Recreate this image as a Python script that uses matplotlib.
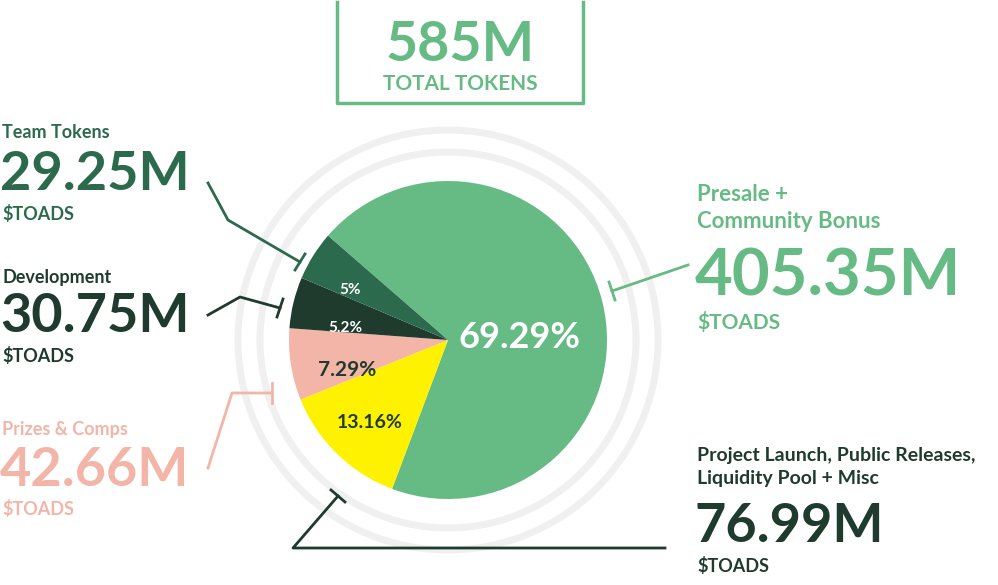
import matplotlib
matplotlib.use("Agg")
import matplotlib.pyplot as plt
from matplotlib.patches import Circle

labels = ["Presale + Community Bonus", "Project Launch", "Prizes & Comps", "Development", "Team Tokens"]
values = [69.29, 13.16, 7.29, 5.2, 5.0]
pct_labels = ["69.29%", "13.16%", "7.29%", "5.2%", "5%"]
colors = ["#66bb84", "#fff200", "#f2b5a8", "#1f3b2e", "#2c6a4e"]
pct_colors = ["white", "#1f3b2e", "#1f3b2e", "white", "white"]
pct_sizes = [26, 14, 15, 11, 11]

H = 585
fig = plt.figure(figsize=(9.98, 5.85), dpi=100)
ax = fig.add_axes([0, 0, 1, 1])
F = "Lato"
cx, cy, r = 448, H - 340, 159

for rad, lw in [(210, 5), (188, 5)]:
    ax.add_patch(Circle((cx, cy), rad, fill=False, ec="#f0f0f0", lw=lw))

wedges, _ = ax.pie(values, colors=colors, startangle=139, counterclock=False,
                   center=(cx, cy), radius=r, frame=True)
ax.set_xlim(0, 998); ax.set_ylim(0, H); ax.set_aspect("equal"); ax.axis("off")

pct_pos = [(520, 337), (370, 423), (347, 370), (345, 328), (350, 290)]
for (x, y), t, c, s in zip(pct_pos, pct_labels, pct_colors, pct_sizes):
    ax.text(x, H - y, t, color=c, fontsize=s, fontweight="bold", family=F, ha="center", va="center")

G = "#66bb84"; D = "#2c6a4e"; K = "#1f3b2e"; P = "#f2b5a8"
ax.plot([337, 337, 583, 583], [H - 2, H - 103, H - 103, H - 2], color=G, lw=2.5)
ax.text(460, H - 45, "585M", color=G, fontsize=40, fontweight="bold", family=F, ha="center", va="center")
ax.text(460, H - 84, "TOTAL TOKENS", color=G, fontsize=15, fontweight="bold", family=F, ha="center", va="center")

def t(x, y, s, col, size):
    ax.text(x, H - y, s, color=col, fontsize=size, fontweight="bold", family=F, va="center", linespacing=1.4)

t(2, 133, "Team Tokens", D, 13); t(0, 175, "29.25M", D, 39); t(2, 214, "$TOADS", D, 13)
t(2, 277, "Development", K, 13); t(0, 317, "30.75M", K, 39); t(2, 356, "$TOADS", K, 13)
t(2, 430, "Prizes & Comps", P, 13); t(0, 470, "42.66M", P, 39); t(2, 509, "$TOADS", P, 13)
t(697, 208, "Presale +\nCommunity Bonus", G, 16); t(695, 277, "405.35M", G, 47); t(697, 323, "$TOADS", G, 15)
t(697, 467, "Project Launch, Public Releases,\nLiquidity Pool + Misc", K, 14); t(695, 527, "76.99M", K, 39); t(697, 566, "$TOADS", K, 13)

def leader(xs, ys, col, tick):
    ax.plot(xs, [H - y for y in ys], color=col, lw=2)
    (tx0, ty0), (tx1, ty1) = tick
    ax.plot([tx0, tx1], [H - ty0, H - ty1], color=col, lw=2)

leader([208, 228, 300], [183, 220, 262], D, ((295, 270), (305, 254)))
leader([208, 240, 280], [315, 297, 308], K, ((277, 317), (283, 299)))
leader([208, 232, 272], [468, 393, 393], P, ((272, 383), (272, 403)))
leader([665, 293, 338], [548, 548, 496], K, ((331, 490), (345, 502)))
leader([688, 612], [265, 291], G, ((609, 282), (615, 300)))

fig.savefig("out.png", dpi=100)
